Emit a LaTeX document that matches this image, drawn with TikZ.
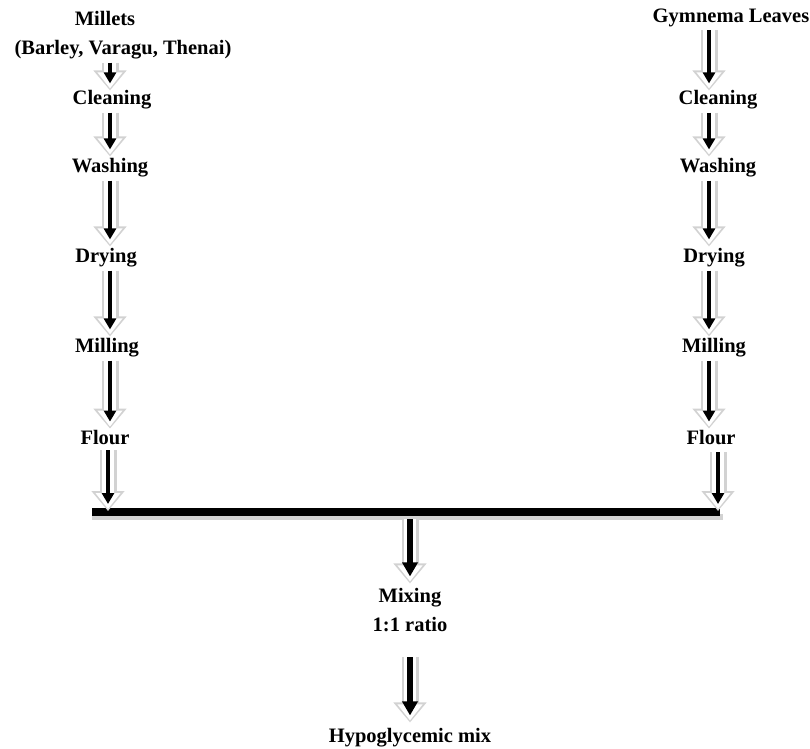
\documentclass[tikz,border=0pt]{standalone}
\usepackage{fontspec}
\setmainfont{Liberation Serif}
\usetikzlibrary{arrows.meta}
\tikzset{
  lbl/.style={inner sep=0pt, font=\bfseries\fontsize{20.5}{23}\selectfont, text=black},
  garrow/.style={line width=4.5pt, black,
    -{Triangle[width=12pt,length=11pt]}, shorten >=7pt, shorten <=0pt,
    preaction={draw=white, line width=12pt, shorten >=2pt, shorten <=0pt,
      -{Triangle[width=24pt,length=16pt]},
      preaction={draw=gray!35, line width=17pt, shorten >=0pt, shorten <=0pt,
        -{Triangle[width=32pt,length=20pt]}}}},
  bigarrow/.style={garrow, line width=6pt, -{Triangle[width=15pt,length=14pt]}}
}
\begin{document}
\begin{tikzpicture}[x=1pt,y=-1pt]
\useasboundingbox (0,0) rectangle (810,748);
% columns
\coordinate (colL) at (110,0);
\coordinate (colR) at (709,0);
% left column
\node[lbl] (mil) at (105,18) {Millets};
\node[lbl] (bar) at (123,50) {(Barley, Varagu, Thenai)};
\node[lbl] (lcl) at (112,100) {Cleaning};
\node[lbl] (lwa) at (110,168) {Washing};
\node[lbl] (ldr) at (106,258) {Drying};
\node[lbl] (lmi) at (107,348) {Milling};
\node[lbl] (lfl) at (105,438) {Flour};
% right column
\node[lbl] (gym) at (731,18) {Gymnema Leaves};
\node[lbl] (rcl) at (718,100) {Cleaning};
\node[lbl] (rwa) at (718,168) {Washing};
\node[lbl] (rdr) at (714,258) {Drying};
\node[lbl] (rmi) at (714,348) {Milling};
\node[lbl] (rfl) at (711,438) {Flour};
% bottom
\node[lbl] (mix) at (410,598) {Mixing};
\node[lbl] (rat) at (410,625) {1:1 ratio};
\node[lbl] (hyp) at (410,738) {Hypoglycemic mix};
% bar
\coordinate (barL) at (92,512);
\coordinate (barR) at (720,512);
\coordinate (barC) at (410,512);
\coordinate (lbar) at (108,511);
\coordinate (rbar) at (718,511);
\draw[gray!35, line width=6pt] ([yshift=-5pt]barL) -- ([yshift=-5pt,xshift=3pt]barR);
\draw[black, line width=8pt] (barL) -- (barR);
% left arrows
\draw[garrow] ([yshift=-3pt]bar.south -| colL) -- (lcl.north -| colL);
\draw[garrow] ([yshift=-3pt]lcl.south -| colL) -- ([yshift=2pt]lwa.north -| colL);
\draw[garrow] ([yshift=-3pt]lwa.south -| colL) -- ([yshift=2pt]ldr.north -| colL);
\draw[garrow] ([yshift=-3pt]ldr.south -| colL) -- ([yshift=2pt]lmi.north -| colL);
\draw[garrow] ([yshift=-3pt]lmi.south -| colL) -- ([yshift=2pt]lfl.north -| colL);
\draw[garrow] ([yshift=-5pt]lfl.south -| lbar) -- (lbar);
% right arrows
\draw[garrow] ([yshift=-3pt]gym.south -| colR) -- (rcl.north -| colR);
\draw[garrow] ([yshift=-3pt]rcl.south -| colR) -- ([yshift=2pt]rwa.north -| colR);
\draw[garrow] ([yshift=-3pt]rwa.south -| colR) -- ([yshift=2pt]rdr.north -| colR);
\draw[garrow] ([yshift=-3pt]rdr.south -| colR) -- ([yshift=2pt]rmi.north -| colR);
\draw[garrow] ([yshift=-3pt]rmi.south -| colR) -- ([yshift=2pt]rfl.north -| colR);
\draw[garrow] ([yshift=-7pt]rfl.south -| rbar) -- (rbar);
% centre arrows
\draw[bigarrow] ([yshift=-7pt]barC) -- ([yshift=5pt]mix.north);
\draw[bigarrow] ([yshift=-25pt]rat.south) -- ([yshift=6pt]hyp.north);
\end{tikzpicture}
\end{document}
